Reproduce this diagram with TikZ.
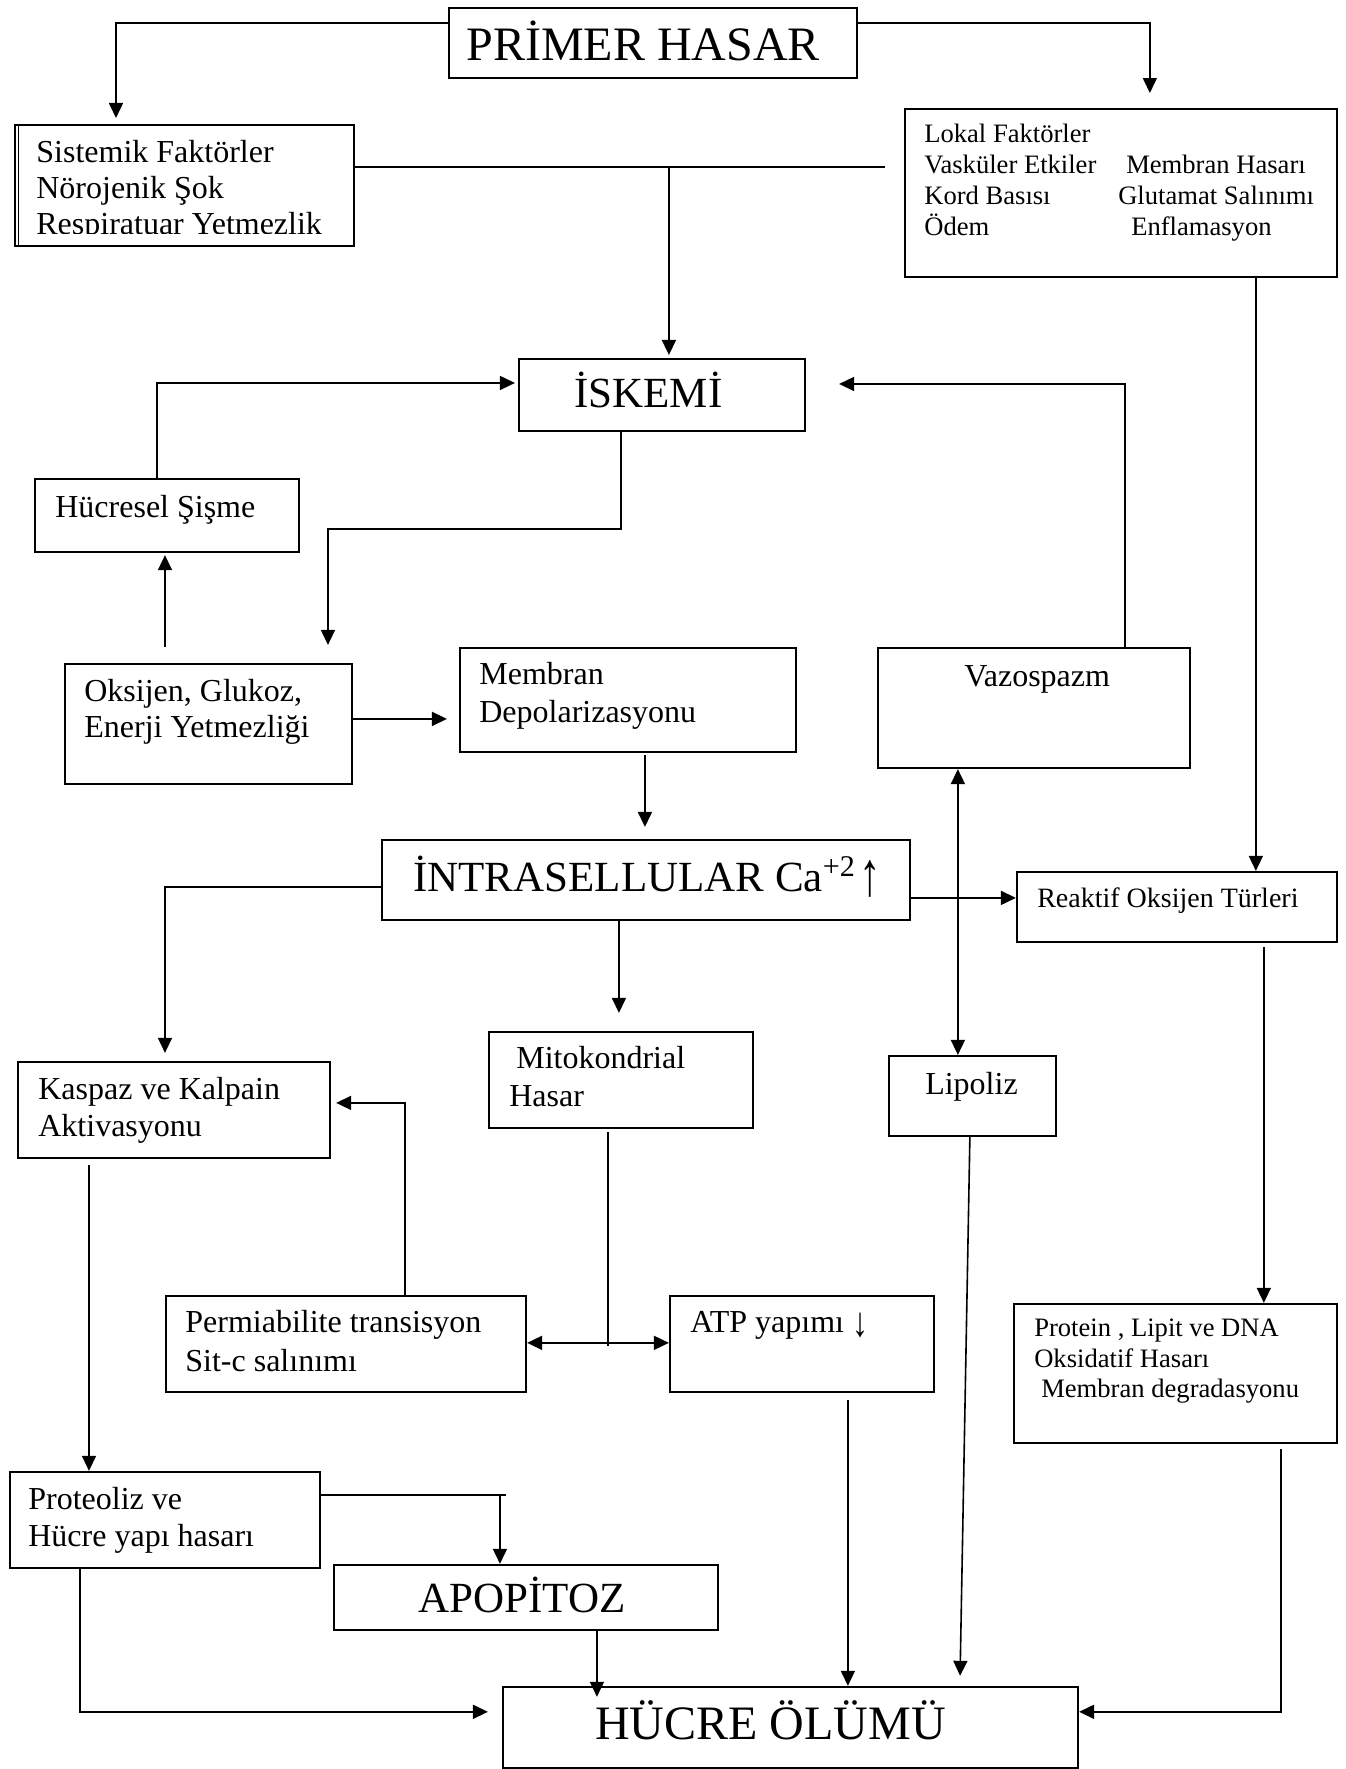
\documentclass[tikz,border=0pt]{standalone}
\usepackage{fontspec}
\setmainfont{Liberation Serif}
\usetikzlibrary{arrows.meta}
\newcommand{\lns}[1]{\begin{tabular}[t]{@{}l@{}}#1\end{tabular}}
\begin{document}
\begin{tikzpicture}[x=0.5pt,y=-0.5pt,
  box/.style={draw, line width=1.1pt, rectangle, inner sep=0pt, anchor=north west},
  txt/.style={anchor=base west, inner sep=0pt},
  ln/.style={line width=0.8pt},
  arr/.style={ln, -{Triangle[length=7.5pt,width=7pt]}},
  darr/.style={ln, {Triangle[length=7.5pt,width=7pt]}-{Triangle[length=7.5pt,width=7pt]}},
  fbig/.style={font=\fontsize{24pt}{28pt}\selectfont},
  fmid/.style={font=\fontsize{21.5pt}{25pt}\selectfont},
  fnorm/.style={font=\fontsize{16pt}{#1}\selectfont},
  fsmall/.style={font=\fontsize{13.3pt}{#1}\selectfont}
]
\fill[white] (0,0) rectangle (1346,1769);

% boxes
\node[box, minimum width=204pt, minimum height=35pt] (prim) at (448,7) {};
\node[box, minimum width=169.5pt, minimum height=60.5pt] (sist) at (14,124) {};
\node[box, minimum width=216pt, minimum height=84pt] (lokal) at (904,108) {};
\node[box, minimum width=143pt, minimum height=36pt] (isk) at (518,358) {};
\node[box, minimum width=132pt, minimum height=36.5pt] (hucr) at (34,478) {};
\node[box, minimum width=143.5pt, minimum height=60pt] (oks) at (64,663) {};
\node[box, minimum width=168pt, minimum height=52pt] (memb) at (459,647) {};
\node[box, minimum width=156pt, minimum height=60pt] (vazo) at (877,647) {};
\node[box, minimum width=264pt, minimum height=40pt] (intra) at (381,839) {};
\node[box, minimum width=160pt, minimum height=35pt] (reak) at (1016,871) {};
\node[box, minimum width=156pt, minimum height=48pt] (kasp) at (17,1061) {};
\node[box, minimum width=132pt, minimum height=48pt] (mito) at (488,1031) {};
\node[box, minimum width=83.5pt, minimum height=40pt] (lipo) at (888,1055) {};
\node[box, minimum width=180pt, minimum height=48pt] (perm) at (165,1295) {};
\node[box, minimum width=132pt, minimum height=48pt] (atp) at (669,1295) {};
\node[box, minimum width=161.5pt, minimum height=69.5pt] (prot) at (1013,1303) {};
\node[box, minimum width=155pt, minimum height=48pt] (prote) at (9,1471) {};
\node[box, minimum width=192pt, minimum height=32.5pt] (apo) at (333,1564) {};
\node[box, minimum width=287.5pt, minimum height=40.5pt] (hucre) at (502,1686) {};
\draw[line width=0.6pt] ([xshift=2.2pt]sist.north west) -- ([xshift=2.2pt]sist.south west);

% texts
\node[txt, fbig] (tprim) at (466,60) {PRİMER HASAR};
\begin{scope}
\clip (14,124) rectangle (352,234);
\node[txt, fnorm=18pt] (tsist) at (36,163) {\lns{Sistemik Faktörler\\Nörojenik Şok\\Respiratuar Yetmezlik}};
\end{scope}
\node[txt, fsmall=15.35pt] (tlokal) at (924,143) {\lns{Lokal Faktörler\\
  \makebox[101pt][l]{Vasküler Etkiler}Membran Hasarı\\
  \makebox[97pt][l]{Kord Basısı}Glutamat Salınımı\\
  \makebox[103.5pt][l]{Ödem}Enflamasyon}};
\node[txt, fmid] (tisk) at (574,408) {İSKEMİ};
\node[txt, fnorm=18pt] (thucr) at (55,518) {Hücresel Şişme};
\node[txt, fnorm=18pt] (toks) at (84,702) {\lns{Oksijen, Glukoz,\\Enerji Yetmezliği}};
\node[txt, fnorm=19pt] (tmemb) at (479,685) {\lns{Membran\\Depolarizasyonu}};
\node[txt, fnorm=18pt] (tvazo) at (964,687) {Vazospazm};
\node[txt, fmid] (tintra) at (413,892) {İNTRASELLULAR Ca\textsuperscript{+2}\hspace{2pt}\raisebox{-2pt}{\scalebox{1}[1.45]{↑}}};
\node[txt, font=\fontsize{14pt}{17pt}\selectfont] (treak) at (1037,908) {Reaktif Oksijen Türleri};
\node[txt, fnorm=18.5pt] (tkasp) at (38,1100) {\lns{Kaspaz ve Kalpain\\Aktivasyonu}};
\node[txt, fnorm=19pt] (tmito) at (509,1069) {\lns{\hspace*{3.5pt}Mitokondrial\\Hasar}};
\node[txt, fnorm=18pt] (tlipo) at (925,1095) {Lipoliz};
\node[txt, fnorm=19.5pt] (tperm) at (185,1333) {\lns{Permiabilite transisyon\\Sit-c salınımı}};
\node[txt, fnorm=18pt] (tatp) at (690,1333) {ATP yapımı \raisebox{-2pt}{\scalebox{1}[1.3]{↓}}};
\node[txt, fsmall=15.25pt] (tprot) at (1034,1337) {\lns{Protein , Lipit ve DNA\\Oksidatif Hasarı\\\hspace*{3.5pt}Membran degradasyonu}};
\node[txt, fnorm=18.5pt] (tprote) at (28,1510) {\lns{Proteoliz ve\\Hücre yapı hasarı}};
\node[txt, fmid] (tapo) at (418,1613) {APOPİTOZ};
\node[txt, fbig] (thucre) at (595,1740) {HÜCRE ÖLÜMÜ};

% connectors
\draw[arr, shorten >=3pt] (prim.west |- 0,23) -| (sist.north -| 116,0);
\draw[arr, shorten >=7.5pt] (prim.east |- 0,23) -| (lokal.north -| 1150,0);
\draw[ln, shorten >=9.5pt] (sist.east |- 0,167) -- (lokal.west |- 0,167);
\coordinate (j1) at (669,167);
\draw[arr, shorten >=1.5pt] (j1) -- (isk.north -| j1);
\draw[arr, shorten >=1.5pt] (hucr.north -| 157,0) |- (isk.west |- 0,383);
\draw[arr, shorten >=9pt] (isk.south -| 621,0) -- ++(0,97) -| (oks.north -| 328,0);
\draw[arr, shorten <=8pt, shorten >=1pt] (oks.north -| 165,0) -- (hucr.south -| 165,0);
\draw[arr, shorten >=6pt] (oks.east |- 0,719) -- (memb.west |- 0,719);
\draw[arr, shorten <=1pt, shorten >=6pt] (memb.south -| 645,0) -- (intra.north -| 645,0);
\draw[arr, shorten >=16.5pt] (vazo.north -| 1125,0) |- (isk.east |- 0,384);
\draw[arr] (lokal.south -| 1256,0) -- (reak.north -| 1256,0);
\draw[arr] (intra.east |- 0,898) -- (reak.west |- 0,898);
\draw[darr] (vazo.south -| 958,0) -- (lipo.north -| 958,0);
\draw[arr, shorten >=4pt] (intra.west |- 0,887) -| (kasp.north -| 165,0);
\draw[arr, shorten >=9pt] (intra.south -| 619,0) -- (mito.north -| 619,0);
\draw[arr, shorten >=2.5pt] (perm.north -| 405,0) |- (kasp.east |- 0,1103);
\coordinate (j2) at (608,1346);
\draw[ln, shorten <=1.5pt] (mito.south -| j2) -- (j2);
\draw[darr] (perm.east |- 0,1343) -- (atp.west |- 0,1343);
\draw[arr, shorten <=3pt] (kasp.south -| 89,0) -- (prote.north -| 89,0);
\draw[arr, shorten <=2pt] (reak.south -| 1264,0) -- (prot.north -| 1264,0);
\draw[arr, shorten >=5pt] (lipo.south -| 970,0) -- (hucre.north -| 960,0);
\draw[arr, shorten <=3.5pt] (atp.south -| 848,0) -- (hucre.north -| 848,0);
\draw[arr, shorten <=2.5pt] (prot.south -| 1281,0) |- (hucre.east |- 0,1712);
\coordinate (j3) at (506,1495);
\draw[ln] (prote.east |- j3) -- (j3);
\draw[arr] (j3 -| 500,0) -- (apo.north -| 500,0);
\draw[arr, shorten >=7pt] (prote.south -| 80,0) |- (hucre.west |- 0,1712);
\draw[arr, shorten >=-5.5pt] (apo.south -| 597,0) -- (hucre.north -| 597,0);
\end{tikzpicture}
\end{document}
